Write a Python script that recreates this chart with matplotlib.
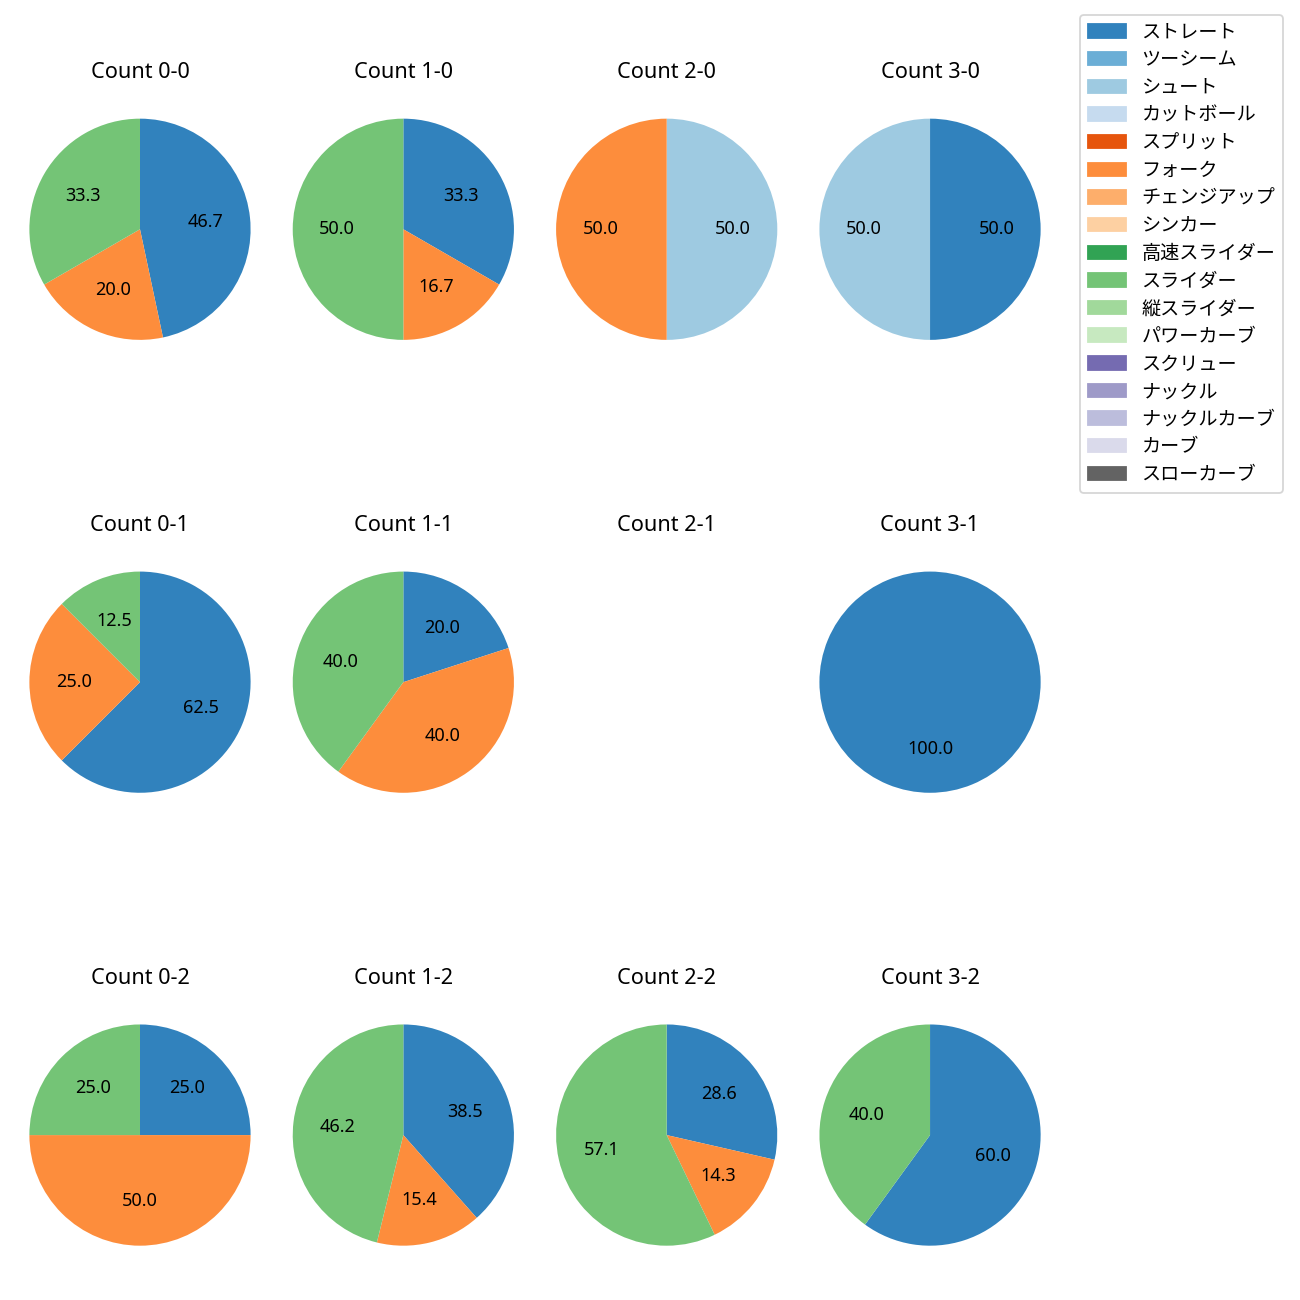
import matplotlib.pyplot as plt
from matplotlib.patches import Patch

plt.rcParams['font.family'] = ['Noto Sans', 'Noto Sans CJK JP', 'DejaVu Sans']

# pitch types in legend order, colours from tab20c
pitch_types = ['ストレート', 'ツーシーム', 'シュート', 'カットボール', 'スプリット', 'フォーク',
               'チェンジアップ', 'シンカー', '高速スライダー', 'スライダー', '縦スライダー',
               'パワーカーブ', 'スクリュー', 'ナックル', 'ナックルカーブ', 'カーブ', 'スローカーブ']
cmap = plt.get_cmap('tab20c')
colors = {p: cmap(i) for i, p in enumerate(pitch_types)}

# pitch counts per ball-strike count
counts = {
    '0-0': {'ストレート': 7, 'フォーク': 3, 'スライダー': 5},
    '1-0': {'ストレート': 2, 'フォーク': 1, 'スライダー': 3},
    '2-0': {'シュート': 1, 'フォーク': 1},
    '3-0': {'ストレート': 1, 'シュート': 1},
    '0-1': {'ストレート': 5, 'フォーク': 2, 'スライダー': 1},
    '1-1': {'ストレート': 1, 'フォーク': 2, 'スライダー': 2},
    '2-1': {},
    '3-1': {'ストレート': 1},
    '0-2': {'ストレート': 1, 'フォーク': 2, 'スライダー': 1},
    '1-2': {'ストレート': 5, 'フォーク': 2, 'スライダー': 6},
    '2-2': {'ストレート': 2, 'フォーク': 1, 'スライダー': 4},
    '3-2': {'ストレート': 3, 'スライダー': 2},
}

fig, axes = plt.subplots(3, 4, figsize=(10, 10), dpi=130)
fig.subplots_adjust(left=0.0064, right=0.8167, top=0.939, bottom=0.0115, wspace=0, hspace=0.51)

for ax, (name, d) in zip(axes.flat, counts.items()):
    ax.set_title(f'Count {name}', pad=11)
    ax.set_aspect('equal')
    if not d:
        ax.axis('off')
        continue
    labels = list(d.keys())
    vals = list(d.values())
    ax.pie(vals, colors=[colors[l] for l in labels], autopct='%.1f',
           startangle=90, counterclock=False, radius=1.05)

handles = [Patch(color=colors[p]) for p in pitch_types]
fig.legend(handles, pitch_types, loc='upper right', fontsize=10.6, labelspacing=0.4,
           bbox_to_anchor=(1283 / 1300, 1 - 15 / 1300), borderaxespad=0)

fig.savefig('out.png')
